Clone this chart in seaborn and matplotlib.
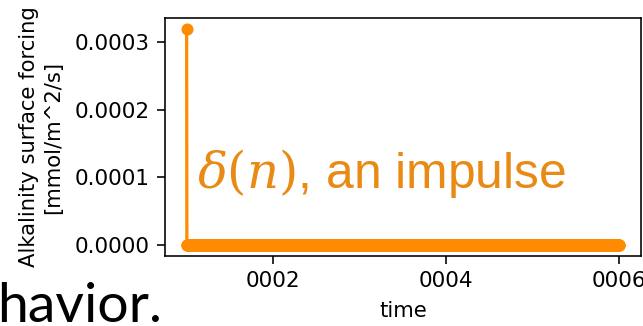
import numpy as np
import pandas as pd
import matplotlib
matplotlib.use("Agg")
import matplotlib.pyplot as plt
import seaborn as sns

# ---- data ----
n_days = 1826
time_years = np.linspace(1.0, 6.0, n_days)          # model time in years (0001 .. 0006)
forcing = [3.19e-4] + [0.0] * (n_days - 1)           # impulse at first step, zero after
xtick_pos = [2, 4, 6]
xtick_labels = ["0002", "0004", "0006"]
ytick_pos = [0.0, 0.0001, 0.0002, 0.0003]
ytick_labels = ["0.0000", "0.0001", "0.0002", "0.0003"]

df = pd.DataFrame({"time": time_years, "forcing": forcing})

plt.rcParams["mathtext.fontset"] = "dejavuserif"
DPI = 145
fig = plt.figure(figsize=(643 / DPI, 326 / DPI), dpi=DPI)
ax = fig.add_axes([165 / 643, 1 - 256 / 326, (641 - 165) / 643, (256 - 18) / 326])

sns.lineplot(data=df, x="time", y="forcing", ax=ax, color="darkorange",
             marker="o", markersize=6, markeredgewidth=0, linewidth=1.6)

ax.set_xticks(xtick_pos)
ax.set_xticklabels(xtick_labels, fontsize=10.7)
ax.set_yticks(ytick_pos)
ax.set_yticklabels(ytick_labels, fontsize=10.7)
ax.tick_params(length=4)
ax.set_xlabel("time", fontsize=10.5, labelpad=5)
ax.set_ylabel("Alkalinity surface forcing\n[mmol/m^2/s]", fontsize=10.5, labelpad=6)

ax.text(0.068, 0.285, r"$\delta(n)$, an impulse", transform=ax.transAxes,
        fontsize=24.7, color="#E88A14", family="Liberation Sans", va="baseline")

fig.text(-0.004, 0.012, "havior.", fontsize=27.5, color="black",
         family="Lato", va="baseline", ha="left")

fig.savefig("out.png", dpi=DPI)
